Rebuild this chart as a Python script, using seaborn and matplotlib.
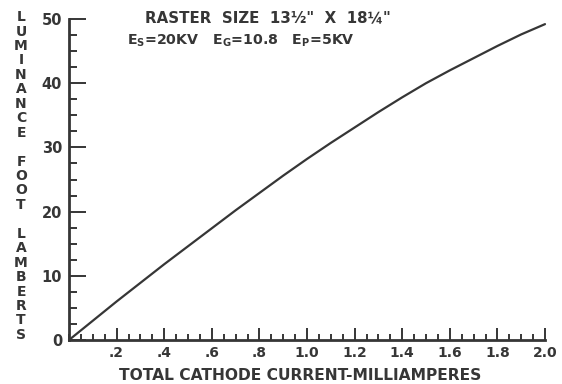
import matplotlib
matplotlib.use("Agg")
import matplotlib.pyplot as plt
import seaborn as sns
import pandas as pd
from matplotlib.ticker import MultipleLocator, FixedLocator

# Luminance versus total cathode current
current_ma = [0.0, 0.1, 0.2, 0.3, 0.4, 0.5, 0.6, 0.7, 0.8, 0.9, 1.0,
              1.1, 1.2, 1.3, 1.4, 1.5, 1.6, 1.7, 1.8, 1.9, 2.0]
luminance_fl = [0.0, 3.0, 6.0, 8.9, 11.8, 14.6, 17.4, 20.2, 22.9, 25.6, 28.2,
                30.7, 33.1, 35.5, 37.8, 40.0, 42.0, 43.9, 45.8, 47.6, 49.2]

x_ticks = [0.2, 0.4, 0.6, 0.8, 1.0, 1.2, 1.4, 1.6, 1.8, 2.0]
x_tick_labels = [".2", ".4", ".6", ".8", "1.0", "1.2", "1.4", "1.6", "1.8", "2.0"]
y_ticks = [0, 10, 20, 30, 40, 50]

ink = "#363636"

sns.set_style("ticks")
plt.rcParams["font.family"] = ["DejaVu Sans"]

df = pd.DataFrame({"current": current_ma, "luminance": luminance_fl})

fig = plt.figure(figsize=(5.62, 3.84), dpi=100)
ax = fig.add_axes([69 / 562, 1 - 340 / 384, (545 - 69) / 562, (340 - 19) / 384])

sns.lineplot(data=df, x="current", y="luminance", ax=ax, color=ink,
             linewidth=1.6, clip_on=False)

ax.set_xlim(0, 2.0)
ax.set_ylim(0, 50)

ax.xaxis.set_major_locator(FixedLocator(x_ticks))
ax.set_xticklabels(x_tick_labels)
ax.xaxis.set_minor_locator(MultipleLocator(0.05))
ax.yaxis.set_major_locator(FixedLocator(y_ticks))
ax.yaxis.set_minor_locator(MultipleLocator(2.5))

for side in ("top", "right"):
    ax.spines[side].set_visible(False)
for side in ("left", "bottom"):
    ax.spines[side].set_linewidth(2.0)
    ax.spines[side].set_color(ink)

ax.tick_params(axis="x", which="major", direction="in", length=8.5, width=1.4,
               color=ink, labelcolor=ink, labelsize=10, pad=4)
ax.tick_params(axis="x", which="minor", direction="in", length=4, width=1.4, color=ink)
ax.tick_params(axis="y", which="major", direction="in", length=12.5, width=1.4,
               color=ink, labelcolor=ink, labelsize=10.5, pad=5)
ax.tick_params(axis="y", which="minor", direction="in", length=6, width=1.4, color=ink)
for lbl in ax.get_xticklabels() + ax.get_yticklabels():
    lbl.set_fontweight("bold")

ax.set_xlabel("")
ax.set_ylabel("")

fig.text(300 / 562, 1 - 375 / 384, "TOTAL CATHODE CURRENT-MILLIAMPERES",
         ha="center", va="center", fontsize=11.2, fontweight="bold", color=ink)

ylabel = "\n".join("LUMINANCE") + "\n\n" + "\n".join("FOOT") + "\n\n" + "\n".join("LAMBERTS")
fig.text(21 / 562, 1 - 176 / 384, ylabel, ha="center", va="center",
         fontsize=10, fontweight="bold", color=ink, linespacing=1.04)

fig.text(145 / 562, 1 - 18 / 384, "RASTER  SIZE  13½\"  X  18¼\"",
         ha="left", va="center", fontsize=10.8, fontweight="bold", color=ink)
fig.text(127 / 562, 1 - 41 / 384,
         r"E$_\mathregular{S}$=20KV   E$_\mathregular{G}$=10.8   E$_\mathregular{P}$=5KV",
         ha="left", va="center", fontsize=10.2, fontweight="bold", color=ink)

fig.savefig("out.png", dpi=100, facecolor="white")
